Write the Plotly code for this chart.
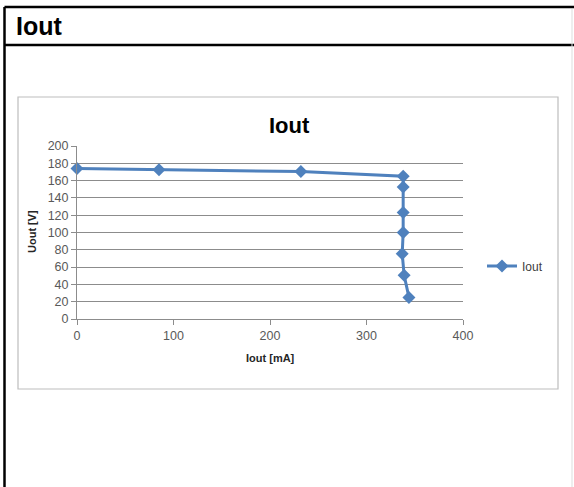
import plotly.graph_objects as go

# Data
iout_ma = [0, 85, 232, 338, 338, 338, 338, 337, 339, 344]
uout_v = [174, 172.5, 170.5, 165, 152.5, 123, 100, 75.5, 50.5, 25]
x_ticks = [0, 100, 200, 300, 400]
y_ticks = [0, 20, 40, 60, 80, 100, 120, 140, 160, 180, 200]

W, H = 574, 487


def px(x):
    return x / W


def py(y):
    return 1 - y / H


BLUE = "#4F81BD"
GRID = "#8C8C8C"
TICKCOL = "#595959"
FONT = "Liberation Sans, Arial, sans-serif"

fig = go.Figure()
fig.add_trace(go.Scatter(
    x=iout_ma, y=uout_v, mode="lines+markers", name="Iout",
    line=dict(color=BLUE, width=3),
    marker=dict(symbol="diamond", size=10, color=BLUE),
    cliponaxis=False,
))

fig.update_layout(
    width=W, height=H,
    margin=dict(l=0, r=0, t=0, b=0),
    paper_bgcolor="white", plot_bgcolor="white",
    font=dict(family=FONT, color=TICKCOL, size=12),
    showlegend=True,
    legend=dict(x=px(482), y=py(266), xanchor="left", yanchor="middle",
                font=dict(size=12, color="#404040", family=FONT),
                bgcolor="rgba(0,0,0,0)", itemwidth=30),
    xaxis=dict(domain=[px(77), px(463)], range=[0, 400], tickvals=x_ticks,
               showgrid=False, zeroline=False, showline=True, linecolor=GRID,
               linewidth=1, ticks="outside", ticklen=5, tickcolor=GRID,
               tickfont=dict(size=12.5, color=TICKCOL), automargin=False),
    yaxis=dict(domain=[py(319), py(146)], range=[0, 200], tickvals=y_ticks,
               showgrid=True, gridcolor=GRID, gridwidth=1, zeroline=False,
               showline=True, linecolor=GRID, linewidth=1, ticks="outside",
               ticklen=5, tickcolor=GRID,
               tickfont=dict(size=12.5, color=TICKCOL), automargin=False),
)

shapes = [
    # chart box
    dict(type="rect", xref="paper", yref="paper", x0=px(18), x1=px(558),
         y0=py(389), y1=py(97), line=dict(color="#BDBDBD", width=1.2)),
    # outer frame
    dict(type="line", xref="paper", yref="paper", x0=px(4.5), x1=px(4.5),
         y0=py(7), y1=py(487), line=dict(color="black", width=2.5)),
    dict(type="line", xref="paper", yref="paper", x0=px(4.5), x1=1,
         y0=py(7), y1=py(7), line=dict(color="black", width=2.5)),
    dict(type="line", xref="paper", yref="paper", x0=px(4.5), x1=1,
         y0=py(45), y1=py(45), line=dict(color="black", width=2.5)),
    dict(type="line", xref="paper", yref="paper", x0=px(572), x1=px(572),
         y0=py(9), y1=py(487), line=dict(color="#DDDDDD", width=1)),
]
fig.update_layout(shapes=shapes)

annotations = [
    dict(text="<b>Iout</b>", x=px(14), y=py(26), xref="paper", yref="paper",
         xanchor="left", yanchor="middle", showarrow=False,
         font=dict(size=25, color="black", family=FONT)),
    dict(text="<b>Iout</b>", x=px(289), y=py(126), xref="paper", yref="paper",
         xanchor="center", yanchor="middle", showarrow=False,
         font=dict(size=22, color="black", family=FONT)),
    dict(text="<b>Iout [mA]</b>", x=px(270), y=py(358), xref="paper", yref="paper",
         xanchor="center", yanchor="middle", showarrow=False,
         font=dict(size=11, color="#262626", family=FONT)),
    dict(text="<b>Uout [V]</b>", x=px(32), y=py(232), xref="paper", yref="paper",
         xanchor="center", yanchor="middle", showarrow=False, textangle=-90,
         font=dict(size=11, color="#262626", family=FONT)),
]
fig.update_layout(annotations=annotations)

fig.write_html("out.html",
               config={"displayModeBar": False},
               post_script="document.body.style.margin='0';"
                           "document.body.style.overflow='hidden';")
